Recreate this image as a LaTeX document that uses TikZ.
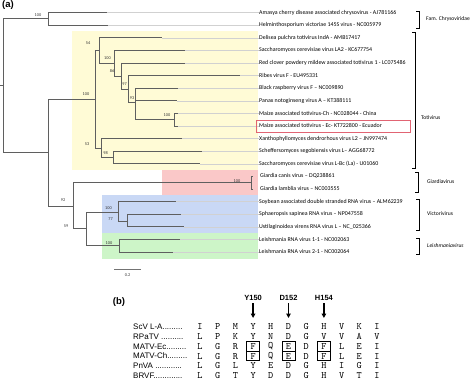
\documentclass[tikz,border=0pt]{standalone}
\usepackage{fontspec}
\setmainfont{Carlito}
\newfontfamily\arialf{Liberation Sans}
\usetikzlibrary{arrows.meta}
\definecolor{yel}{RGB}{255,251,214}
\definecolor{pnk}{RGB}{250,200,200}
\definecolor{blu}{RGB}{201,216,245}
\definecolor{grn}{RGB}{205,245,200}
\definecolor{treec}{RGB}{95,95,95}
\definecolor{redbox}{RGB}{225,100,115}
\begin{document}
\begin{tikzpicture}[x=1pt,y=-1pt,
 br/.style={draw=treec, line width=0.65pt},
 leaf/.style={anchor=west, font=\fontsize{5.9}{6}\selectfont, inner sep=0pt},
 boot/.style={font=\fontsize{4.3}{5}\selectfont, inner sep=0pt, text=black!80},
 ext/.style={draw=black!18, line width=0.4pt},
 brk/.style={draw=black, line width=0.8pt},
 grp/.style={anchor=west, font=\fontsize{5.6}{6}\selectfont, inner sep=0pt},
 seqname/.style={anchor=west, font=\arialf\fontsize{8}{9}\selectfont, inner sep=0pt},
 aa/.style={font=\ttfamily\fontsize{9.8}{10}\selectfont, inner sep=0pt},
 site/.style={font=\arialf\bfseries\fontsize{7.5}{8}\selectfont, inner sep=0pt},
 panel/.style={font=\arialf\bfseries\fontsize{9.5}{10}\selectfont, inner sep=0pt},
 abox/.style={draw=black, line width=0.8pt, minimum width=13pt, minimum height=9.4pt, inner sep=0pt},
 arr/.style={-{Triangle[length=4.5pt,width=4.5pt]}, line width=1.4pt}]
\useasboundingbox (0,0) rectangle (474,380);

% ---- coloured clade backgrounds
\fill[yel] (72,31) rectangle (258,170);
\fill[pnk] (162,170) rectangle (258,195);
\fill[blu] (102,195) rectangle (258,233);
\fill[grn] (102,233) rectangle (258,259);

\node[panel] (pa) at (8,5) {(a)};

% ---- leaf labels
\node[leaf] (L0) at (259,12.5) {Amasya cherry disease associated chrysovirus - AJ781166};
\node[leaf] (L1) at (259,25.1) {Helminthosporium victoriae 145S virus - NC005979};
\node[leaf] (L2) at (259,37.7) {Delisea pulchra totivirus IndA - AMB17417};
\node[leaf] (L3) at (259,50.3) {Saccharomyces cerevisiae virus LA2 - KC677754};
\node[leaf] (L4) at (259,62.9) {Red clover powdery mildew associated totivirus 1 - LC075486};
\node[leaf] (L5) at (259,75.5) {Ribes virus F - EU495331};
\node[leaf] (L6) at (259,88.1) {Black raspberry virus F -- NC009890};
\node[leaf] (L7) at (259,100.7) {Panax notoginseng virus A -- KT388111};
\node[leaf] (L8) at (259,113.3) {Maize associated totivirus-Ch - NC028044 - China};
\node[leaf] (L9) at (259,125.9) {Maize associated totivirus - Ec- KT722800 - Ecuador};
\node[leaf] (L10) at (259,138.5) {Xanthophyllomyces dendrorhous virus L2 -- JN997474};
\node[leaf] (L11) at (259,151.1) {Scheffersomyces segobiensis virus L-- AGG68772};
\node[leaf] (L12) at (259,163.7) {Saccharomyces cerevisiae virus L-Bc (La) - U01060};
\node[leaf] (L13) at (260,176.3) {Giardia canis virus -- DQ238861};
\node[leaf] (L14) at (260,188.9) {Giardia lamblia virus -- NC003555};
\node[leaf] (L15) at (259,201.5) {Soybean associated double stranded RNA virus -- ALM62239};
\node[leaf] (L16) at (259,214.1) {Sphaeropsis sapinea RNA virus -- NP047558};
\node[leaf] (L17) at (259,226.7) {Ustilaginoidea virens RNA virus L -- NC\_025366};
\node[leaf] (L18) at (259,239.3) {Leishmania RNA virus 1-1 - NC002063};
\node[leaf] (L19) at (259,251.9) {Leishmania RNA virus 2-1 - NC002064};

% ---- tip coordinates
\coordinate (t0) at (107,12.5);
\coordinate (t1) at (108,25.1);
\coordinate (t2) at (162,37.7);
\coordinate (t3) at (185,50.3);
\coordinate (t4) at (185,62.9);
\coordinate (t5) at (240,75.5);
\coordinate (t6) at (178,88.1);
\coordinate (t7) at (177,100.7);
\coordinate (t8) at (178,113.3);
\coordinate (t9) at (178,125.9);
\coordinate (t10) at (182,138.5);
\coordinate (t11) at (202,151.1);
\coordinate (t12) at (200,163.7);
\coordinate (t13) at (253,176.3);
\coordinate (t14) at (253,188.9);
\coordinate (t15) at (176,201.5);
\coordinate (t16) at (181,214.1);
\coordinate (t17) at (184,226.7);
\coordinate (t18) at (180,239.3);
\coordinate (t19) at (173,251.9);

% ---- extension lines to labels
\foreach \i in {0,1,...,12,15,16,17,18,19} \draw[ext] (t\i) -- (L\i.west);

% ---- red highlight box
\draw[redbox, line width=0.6pt] (256,120) rectangle (410,132);

% ---- tree
% root
\draw[br] (0,85) -- (3,85);
\draw[br] (3,18.8) -- (3,152);
\draw[br] (3,18.8) -- (48,18.8);
\draw[br] (48,12.5) -- (48,25.1);
\draw[br] (48,12.5) -- (t0);
\draw[br] (48,25.1) -- (t1);
\node[boot] (b1) at (38,15) {100};
\draw[br] (3,152) -- (48,152);
\draw[br] (48,99) -- (48,206);
% Totivirus clade
\draw[br] (48,99) -- (95,99);
\node[boot] (b2) at (86,94.5) {100};
\draw[br] (95,50) -- (95,148);
\draw[br] (95,50) -- (99,50);
\node[boot] (b3) at (88,43.5) {54};
\draw[br] (99,37.7) -- (99,63);
\draw[br] (99,37.7) -- (t2);
\draw[br] (99,63) -- (114,63);
\node[boot] (b4) at (107.5,58) {100};
\draw[br] (114,50.3) -- (114,76);
\draw[br] (114,50.3) -- (t3);
\draw[br] (114,76) -- (121,76);
\node[boot] (b5) at (112,71.5) {86};
\draw[br] (121,62.9) -- (121,89);
\draw[br] (121,62.9) -- (t4);
\draw[br] (121,89) -- (128,89);
\node[boot] (b6) at (124.5,84) {97};
\draw[br] (128,75.5) -- (128,102);
\draw[br] (128,75.5) -- (t5);
\draw[br] (128,102) -- (135.5,102);
\node[boot] (b7) at (132,98.5) {93};
\draw[br] (135.5,88.1) -- (135.5,119.6);
\draw[br] (135.5,88.1) -- (t6);
\draw[br] (135.5,100.7) -- (t7);
\draw[br] (135.5,119.6) -- (174,119.6);
\node[boot] (b8) at (167,115) {100};
\draw[br] (174,113.3) -- (174,125.9);
\draw[br] (174,113.3) -- (t8);
\draw[br] (174,125.9) -- (t9);
\draw[br] (95,148) -- (101,148);
\node[boot] (b9) at (87,144) {53};
\draw[br] (101,138.5) -- (101,157.4);
\draw[br] (101,138.5) -- (t10);
\draw[br] (101,157.4) -- (113,157.4);
\node[boot] (b10) at (105.5,153) {98};
\draw[br] (113,151.1) -- (113,163.7);
\draw[br] (113,151.1) -- (t11);
\draw[br] (113,163.7) -- (t12);
% rest
\draw[br] (48,206) -- (73,206);
\node[boot] (b11) at (63,200.5) {92};
\draw[br] (73,182.6) -- (73,228);
\draw[br] (73,182.6) -- (251,182.6);
\node[boot] (b12) at (237,181) {100};
\draw[br] (251,176.3) -- (251,188.9);
\draw[br] (251,176.3) -- (t13);
\draw[br] (251,188.9) -- (t14);
\draw[br] (73,228) -- (86,228);
\node[boot] (b13) at (66,226) {59};
\draw[br] (86,212) -- (86,245.6);
\draw[br] (86,212) -- (118,212);
\node[boot] (b14) at (108.5,208) {100};
\draw[br] (118,201.5) -- (118,221);
\draw[br] (118,201.5) -- (t15);
\draw[br] (118,221) -- (127,221);
\node[boot] (b15) at (110.5,219) {77};
\draw[br] (127,214.1) -- (127,226.7);
\draw[br] (127,214.1) -- (t16);
\draw[br] (127,226.7) -- (t17);
\draw[br] (86,245.6) -- (119,245.6);
\node[boot] (b16) at (109,243) {100};
\draw[br] (119,239.3) -- (119,251.9);
\draw[br] (119,239.3) -- (t18);
\draw[br] (119,251.9) -- (t19);

% scale bar
\draw[draw=black!55, line width=0.8pt] (114,269) -- (141,269);
\node[boot] (sc) at (127.5,275.5) {0.2};

% ---- group brackets
\draw[brk] (416,11) -- (419,11) -- (419,28) -- (416,28);
\node[grp] (g1) at (426,19) {Fam. Chrysoviridae};
\draw[brk] (412,32) -- (415,32) -- (415,168) -- (412,168);
\node[grp] (g2) at (421,118) {Totivirus};
\draw[brk] (415,172) -- (418,172) -- (418,192) -- (415,192);
\node[grp] (g3) at (427,181.5) {Giardiavirus};
\draw[brk] (416,199) -- (419,199) -- (419,230) -- (416,230);
\node[grp] (g4) at (427,214) {Victorivirus};
\draw[brk] (416,238) -- (419,238) -- (419,254) -- (416,254);
\node[grp] (g5) at (427,245.5) {\textit{Leishmaniavirus}};

% ---- panel (b)
\node[panel] (pb) at (119,302) {(b)};

\node[seqname] (s0) at (133,327) {ScV L-A.........};
\node[seqname] (s1) at (133,336.7) {RPaTV ..........};
\node[seqname] (s2) at (133,346.4) {MATV-Ec.........};
\node[seqname] (s3) at (133,356.1) {MATV-Ch.........};
\node[seqname] (s4) at (133,365.8) {PnVA ............};
\node[seqname] (s5) at (133,375.5) {BRVF.............};

\foreach \row [count=\r from 0] in {{I,P,M,Y,H,D,G,H,V,K,I},{L,P,K,Y,N,D,G,V,V,A,V},{L,G,R,F,Q,E,D,F,L,E,I},{L,G,R,F,Q,E,D,F,L,E,I},{L,G,L,Y,E,D,G,H,I,G,I},{L,G,T,Y,D,D,G,H,V,T,I}}{
  \foreach \c [count=\k from 0] in \row {
    \node[aa] (a\r-\k) at ({200+17.7*\k},{327+9.7*\r}) {\c};
  }
}

\node[abox] (bx1) at (253.1,346.4) {};
\node[abox] (bx2) at (253.1,356.1) {};
\node[abox] (bx3) at (288.5,346.4) {};
\node[abox] (bx4) at (288.5,356.1) {};
\node[abox] (bx5) at (323.9,346.4) {};
\node[abox] (bx6) at (323.9,356.1) {};

\node[site] (y150) at (253.1,297.5) {Y150};
\node[site] (d152) at (288.5,297.5) {D152};
\node[site] (h154) at (323.9,297.5) {H154};
\coordinate (e1) at (253.1,318);
\coordinate (e2) at (288.5,318);
\coordinate (e3) at (323.9,318);
\draw[arr] ([yshift=-3pt]y150.south) -- (e1);
\draw[arr] ([yshift=-3pt]d152.south) -- (e2);
\draw[arr] ([yshift=-3pt]h154.south) -- (e3);
\end{tikzpicture}
\end{document}
